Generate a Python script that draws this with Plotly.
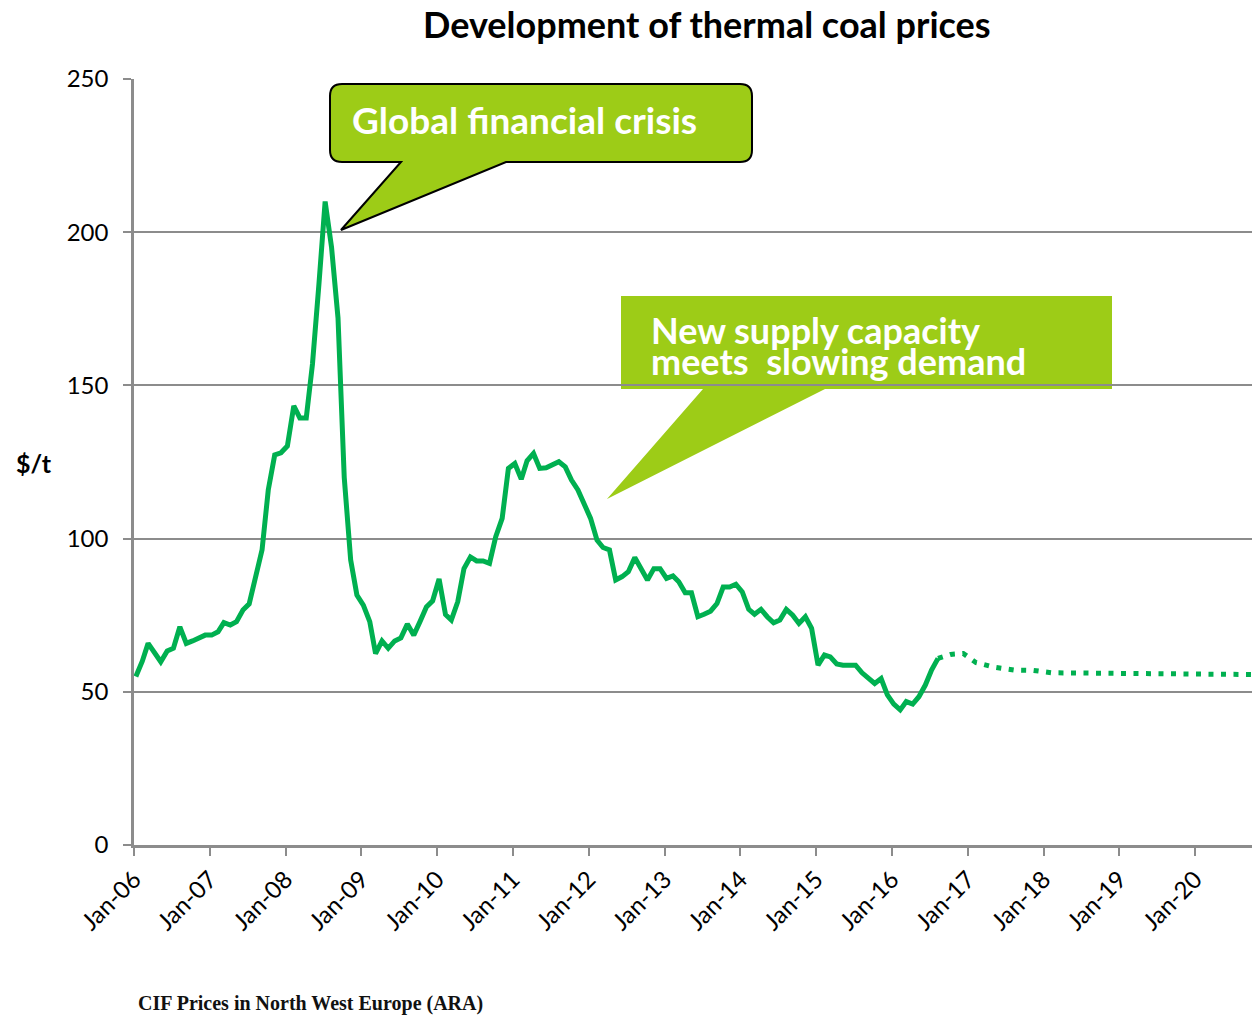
import plotly.graph_objects as go

# ---------------- data ----------------
hist_start_year = 2006
hist_prices = [
    55.0, 60.0, 65.8, 63.0, 59.8, 63.3, 64.2, 71.2, 65.8, 66.6, 67.5, 68.5,          # 2006
    68.5, 69.6, 72.6, 71.8, 72.9, 76.7, 78.7, 87.0, 96.3, 115.9, 127.3, 128.0,       # 2007
    130.2, 143.3, 139.4, 139.4, 157.0, 183.0, 210.0, 195.0, 172.0, 120.0, 93.0, 81.6, # 2008
    78.3, 72.9, 62.5, 66.6, 64.2, 66.6, 67.6, 72.1, 68.5, 72.9, 77.7, 79.7,          # 2009
    86.8, 75.2, 73.4, 79.4, 90.2, 94.0, 92.7, 92.7, 91.9, 100.6, 106.6, 122.9,       # 2010
    124.5, 119.4, 125.4, 127.8, 122.9, 123.1, 124.0, 125.1, 123.4, 119.1, 115.9, 111.5, # 2011
    106.6, 99.5, 97.1, 96.3, 86.5, 87.6, 89.2, 93.8, 90.2, 86.5, 90.2, 90.2,         # 2012
    87.0, 87.8, 85.9, 82.3, 82.3, 74.5, 75.3, 76.3, 78.8, 84.2, 84.2, 85.1,          # 2013
    82.6, 76.9, 75.3, 76.9, 74.5, 72.5, 73.4, 76.9, 75.0, 72.3, 74.5, 70.7,          # 2014
    58.7, 62.0, 61.4, 59.1, 58.7, 58.7, 58.7, 56.2, 54.3, 52.7, 54.3, 49.0,          # 2015
    46.0, 44.1, 46.8, 46.0, 48.4, 52.2, 57.1, 60.9,                                  # 2016
]
hist_dates = [f"{hist_start_year + i // 12}-{i % 12 + 1:02d}-10" for i in range(len(hist_prices))]

forecast_dates = ["2016-08-10", "2016-10-10", "2016-12-10", "2017-02-10", "2017-05-10",
                  "2017-08-10", "2017-11-10", "2018-02-10", "2018-08-10", "2019-02-10",
                  "2019-08-10", "2020-02-10", "2020-08-10", "2020-12-10"]
forecast_prices = [60.9, 62.2, 62.5, 59.5, 58.0, 57.1, 57.0, 56.2, 56.1, 56.0,
                   56.0, 55.8, 55.7, 55.6]

y_ticks = [0, 50, 100, 150, 200, 250]

title_text = "Development of thermal coal prices"
y_label = "$/t"
source_text = "CIF Prices in North West Europe (ARA)"
callout1_text = "Global financial crisis"
callout2_lines = ["New supply capacity", "meets  slowing demand"]

# ---------------- layout helpers ----------------
W, H = 1252, 1015
L, R, T, B = 134, 0, 79, 170
PW, PH = W - L - R, H - T - B

def px(x):
    return (x - L) / PW

def py(y):
    return (H - B - y) / PH

def path(points):
    out = []
    for cmd, *pts in points:
        coords = " ".join(f"{px(pts[i]):.5f},{py(pts[i+1]):.5f}" for i in range(0, len(pts), 2))
        out.append(f"{cmd} {coords}")
    return " ".join(out) + " Z"

GREEN_LINE = "#00b050"
GREEN_BOX = "#9dcc17"
GRID = "#8c8c8c"

fig = go.Figure()
fig.add_trace(go.Scatter(x=hist_dates, y=hist_prices, mode="lines",
                         line=dict(color=GREEN_LINE, width=5), hoverinfo="skip",
                         showlegend=False))
fig.add_trace(go.Scatter(x=forecast_dates, y=forecast_prices, mode="lines",
                         line=dict(color=GREEN_LINE, width=5, dash="5px,7.5px"),
                         hoverinfo="skip", showlegend=False))

# callout 1 (rounded rectangle with tail)
r = 12
c1 = path([
    ("M", 330 + r, 84), ("L", 752 - r, 84), ("Q", 752, 84, 752, 84 + r),
    ("L", 752, 162 - r), ("Q", 752, 162, 752 - r, 162),
    ("L", 506, 162), ("L", 341, 230), ("L", 401, 162),
    ("L", 330 + r, 162), ("Q", 330, 162, 330, 162 - r),
    ("L", 330, 84 + r), ("Q", 330, 84, 330 + r, 84),
])
c2 = path([
    ("M", 621, 296), ("L", 1112, 296), ("L", 1112, 389), ("L", 825, 389),
    ("L", 607, 499), ("L", 703, 389), ("L", 621, 389),
])

fig.update_layout(
    width=W, height=H,
    margin=dict(l=L, r=R, t=T, b=B, pad=0),
    paper_bgcolor="white", plot_bgcolor="white",
    font=dict(family="Lato", color="black"),
    shapes=[
        dict(type="path", path=c2, xref="paper", yref="paper",
             fillcolor=GREEN_BOX, line=dict(width=0), layer="below"),
        dict(type="path", path=c1, xref="paper", yref="paper",
             fillcolor=GREEN_BOX, line=dict(color="black", width=2), layer="above"),
    ],
    xaxis=dict(
        type="date", range=["2006-01-01", "2020-10-01"],
        tick0="2006-01-01", dtick="M12", tickformat="%b-%y",
        tickangle=-45, tickfont=dict(size=24, family="Lato", color="black"),
        ticks="outside", ticklen=8, tickwidth=2, tickcolor=GRID,
        showline=True, linecolor=GRID, linewidth=2.5,
        showgrid=False, zeroline=False, fixedrange=True,
    ),
    yaxis=dict(
        range=[0, 250], tickvals=y_ticks,
        tickfont=dict(size=24, family="Lato", color="black"),
        ticks="outside", ticklen=8, tickwidth=2, tickcolor=GRID,
        ticklabelstandoff=10,
        showline=True, linecolor=GRID, linewidth=2.5,
        showgrid=True, gridcolor=GRID, gridwidth=2,
        zeroline=False, fixedrange=True,
    ),
    annotations=[
        dict(text=f"<b>{title_text}</b>", xref="paper", yref="paper",
             x=px(707), y=py(24), xanchor="center", yanchor="middle",
             showarrow=False, font=dict(size=36, family="Lato", color="black")),
        dict(text=f"<b>{y_label}</b>", xref="paper", yref="paper",
             x=px(14), y=py(463), xanchor="left", yanchor="middle",
             showarrow=False, font=dict(size=25, family="Lato", color="black")),
        dict(text=f"<b>{source_text}</b>", xref="paper", yref="paper",
             x=px(136), y=py(1003), xanchor="left", yanchor="middle",
             showarrow=False, font=dict(size=20, family="Liberation Serif", color="#111")),
        dict(text=f"<b>{callout1_text}</b>", xref="paper", yref="paper",
             x=px(350), y=py(119), xanchor="left", yanchor="middle",
             showarrow=False, font=dict(size=37, family="Lato", color="white")),
        dict(text=f"<b>{callout2_lines[0]}</b>", xref="paper", yref="paper",
             x=px(649), y=py(330), xanchor="left", yanchor="middle",
             showarrow=False, font=dict(size=36, family="Lato", color="white")),
        dict(text=f"<b>{callout2_lines[1]}</b>", xref="paper", yref="paper",
             x=px(649), y=py(361), xanchor="left", yanchor="middle",
             showarrow=False, font=dict(size=36, family="Lato", color="white")),
    ],
)

fig.write_html("out.html", config={"displayModeBar": False},
               post_script="document.body.style.margin='0';document.body.style.overflow='hidden';")
